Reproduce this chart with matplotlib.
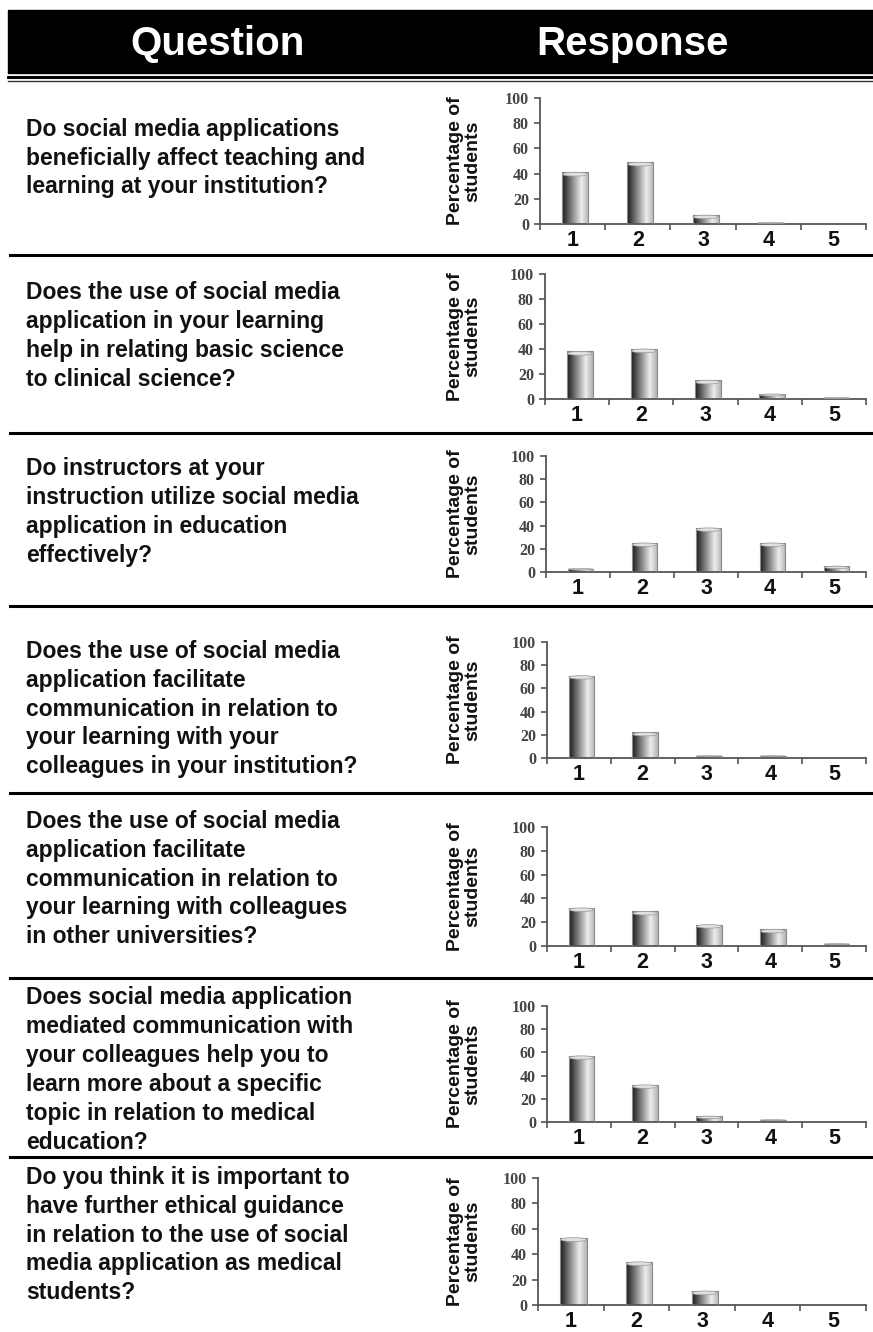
#! /usr/bin/env python3

"""
Survey responses: one question per row with a bar chart of the
percentage of students choosing each answer (1-5).
"""

import numpy as np
import matplotlib.pyplot as plt
from matplotlib.patches import Rectangle, Ellipse
from matplotlib.transforms import ScaledTranslation

plt.rcParams["font.family"] = ["Liberation Sans", "DejaVu Sans"]

questions = [
    "Do social media applications\nbeneficially affect teaching and\nlearning at your institution?",
    "Does the use of social media\napplication in your learning\nhelp in relating basic science\nto clinical science?",
    "Do instructors at your\ninstruction utilize social media\napplication in education\neffectively?",
    "Does the use of social media\napplication facilitate\ncommunication in relation to\nyour learning with your\ncolleagues in your institution?",
    "Does the use of social media\napplication facilitate\ncommunication in relation to\nyour learning with colleagues\nin other universities?",
    "Does social media application\nmediated communication with\nyour colleagues help you to\nlearn more about a specific\ntopic in relation to medical\neducation?",
    "Do you think it is important to\nhave further ethical guidance\nin relation to the use of social\nmedia application as medical\nstudents?",
]

responses = [1, 2, 3, 4, 5]
y_ticks = [0, 20, 40, 60, 80, 100]

q1_pct = [41, 49, 7, 1, 0]
q2_pct = [38, 40, 15, 4, 1]
q3_pct = [3, 25, 38, 25, 5]
q4_pct = [71, 22, 2, 2, 0]
q5_pct = [32, 29, 18, 14, 2]
q6_pct = [57, 32, 5, 2, 0]
q7_pct = [53, 34, 11, 0, 0]
percentages = [q1_pct, q2_pct, q3_pct, q4_pct, q5_pct, q6_pct, q7_pct]

W, H = 873, 1332

# layout in pixels (top-left origin)
row_bottoms = [255, 433, 606, 793, 978, 1157]
text_centers = [158, 336, 512, 709, 879, 1070, 1235]
chart_boxes = [  # left, y at 100, y at 0
    (540, 98, 224),
    (545, 274, 399),
    (546, 456, 572),
    (547, 642, 758),
    (547, 827, 946),
    (547, 1006, 1122),
    (538, 1178, 1305),
]
chart_right = 866

# cylinder shading across a bar, dark on the left, bright to the right
shade = np.concatenate([np.linspace(0.10, 0.92, 72), np.linspace(0.92, 0.70, 28)])
shade = shade[np.newaxis, :]


def draw_bars(ax, values):
    width = 0.4
    bars = ax.bar([r + 0.04 for r in responses], values, width=width,
                  color="none", edgecolor="#8a8a8a", linewidth=0.8, zorder=3)
    for bar, v in zip(bars, values):
        if v <= 0:
            continue
        x0 = bar.get_x()
        img = ax.imshow(shade, cmap="gray", vmin=0, vmax=1, aspect="auto",
                        extent=(x0, x0 + width, 0, v), interpolation="bilinear",
                        zorder=2)
        img.set_clip_path(bar)
        # lighter rim on top of the cylinder
        cap_h = min(3.0, v * 0.4)
        ax.add_patch(Ellipse((x0 + width / 2, v - cap_h / 2), width * 0.98, cap_h,
                             facecolor="#e0e0e0", edgecolor="#9a9a9a",
                             linewidth=0.5, zorder=4))


def draw_chart(fig, box, values):
    left, top, bottom = box
    ax = fig.add_axes([left / W, 1 - bottom / H,
                       (chart_right - left) / W, (bottom - top) / H])
    draw_bars(ax, values)
    ax.set_xlim(0.5, 5.5)
    ax.set_ylim(0, 100)
    for side in ("top", "right"):
        ax.spines[side].set_visible(False)
    for side in ("left", "bottom"):
        ax.spines[side].set_color("#555555")
        ax.spines[side].set_linewidth(1.3)

    ax.set_yticks(y_ticks)
    ax.set_yticklabels([str(t) for t in y_ticks], family="Liberation Serif",
                       fontweight="bold", fontsize=11.5, color="#444444")
    ax.tick_params(axis="y", length=4, width=1.2, color="#555555", pad=4)

    ax.set_xticks(responses)
    ax.set_xticklabels([str(r) for r in responses], fontweight="bold",
                       fontsize=15.5, color="#111111")
    shift = ScaledTranslation(8 / 100, 0, fig.dpi_scale_trans)
    for lab in ax.get_xticklabels():
        lab.set_transform(lab.get_transform() + shift)
    ax.set_xticks([r + 0.5 for r in [0] + responses], minor=True)
    ax.tick_params(axis="x", which="major", length=0, pad=4)
    ax.tick_params(axis="x", which="minor", length=4, width=1.2, color="#555555")

    ax.set_ylabel("Percentage of\nstudents", fontweight="bold", fontsize=14,
                  linespacing=1.0, color="#111111")
    ax.yaxis.set_label_coords((481 - left) / (chart_right - left), 0.5)
    ax.patch.set_alpha(0)


def main():
    fig = plt.figure(figsize=(W / 100, H / 100), dpi=100)
    bg = fig.add_axes([0, 0, 1, 1])
    bg.set_xlim(0, W)
    bg.set_ylim(H, 0)
    bg.axis("off")

    # header band
    bg.add_patch(Rectangle((8, 10), W - 8, 63, color="black"))
    bg.text(218, 44, "Question", color="white", fontsize=29, fontweight="bold",
            ha="center", va="center")
    bg.text(632, 44, "Response", color="white", fontsize=29, fontweight="bold",
            ha="center", va="center")
    bg.plot([8, W], [77, 77], color="black", linewidth=2.2)
    bg.plot([8, W], [80.5, 80.5], color="#333333", linewidth=1.0)

    for y in row_bottoms:
        bg.plot([10, W], [y, y], color="black", linewidth=2.2)

    for q, yc in zip(questions, text_centers):
        bg.text(26, yc, q, fontsize=16.5, fontweight="bold", color="#111111",
                ha="left", va="center", linespacing=1.33)

    for box, values in zip(chart_boxes, percentages):
        draw_chart(fig, box, values)

    fig.savefig("out.png", dpi=100)
    plt.close(fig)


if __name__ == "__main__":
    main()
